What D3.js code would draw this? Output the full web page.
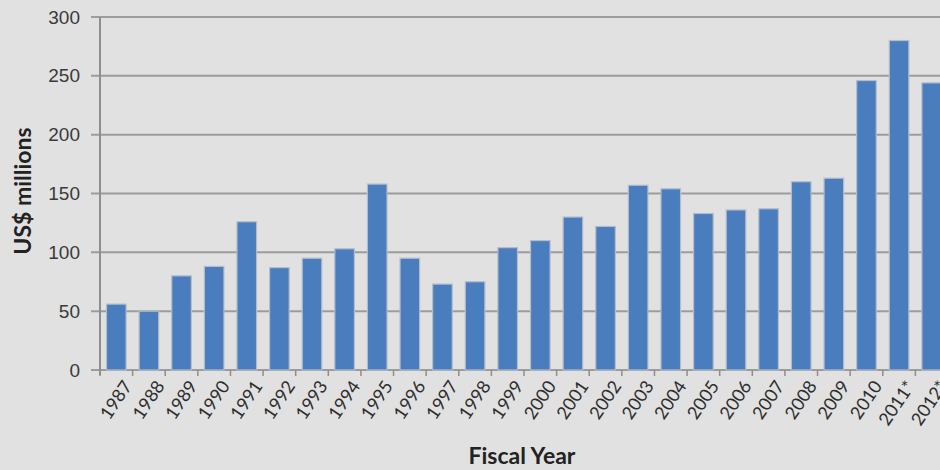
<!DOCTYPE html>
<html>
<head>
<meta charset="utf-8">
<script src="https://cdn.jsdelivr.net/npm/d3@7"></script>
<style>
  body { margin: 0; background: #e1e1e1; overflow: hidden; }
  svg { display: block; font-family: Lato, "Open Sans", sans-serif; }
</style>
</head>
<body>
<div id="chart"></div>
<script>
var years = ["1987", "1988", "1989", "1990", "1991", "1992", "1993", "1994", "1995", "1996",
  "1997", "1998", "1999", "2000", "2001", "2002", "2003", "2004", "2005", "2006",
  "2007", "2008", "2009", "2010", "2011*", "2012*"];
var spending = [56, 50, 80, 88, 126, 87, 95, 103, 158, 95,
  73, 75, 104, 110, 130, 122, 157, 154, 133, 136,
  137, 160, 163, 246, 280, 244];
var yTicks = [0, 50, 100, 150, 200, 250, 300];

(function() {
  var width = 940, height = 470;
  var margin = {top: 17, left: 100, bottom: 100};
  var plotW = 848, plotH = 353;

  var svg = d3.select("#chart").append("svg")
    .attr("width", width)
    .attr("height", height);

  var g = svg.append("g")
    .attr("transform", "translate(" + margin.left + "," + margin.top + ")");

  var x = d3.scaleBand()
    .domain(years)
    .range([0, plotW])
    .paddingInner(0.4)
    .paddingOuter(0.2);

  var y = d3.scaleLinear()
    .domain([0, 300])
    .range([plotH, 0]);

  // gridlines
  g.selectAll("line.grid")
    .data(yTicks)
    .enter()
    .append("line")
    .attr("class", "grid")
    .attr("x1", -9)
    .attr("x2", plotW)
    .attr("y1", function(d) { return y(d); })
    .attr("y2", function(d) { return y(d); })
    .attr("stroke", "#9c9c9c")
    .attr("stroke-width", 2);

  // bars
  g.selectAll("rect.bar")
    .data(spending)
    .enter()
    .append("rect")
    .attr("class", "bar")
    .attr("x", function(d, i) { return x(years[i]); })
    .attr("y", function(d) { return y(d); })
    .attr("width", x.bandwidth())
    .attr("height", function(d) { return plotH - y(d); })
    .attr("fill", "#4a7dbd")
    .attr("stroke", "#b4bccb")
    .attr("stroke-width", 1.2);

  // y axis
  var yAxis = g.append("g")
    .call(d3.axisLeft(y).tickValues(yTicks).tickSize(0).tickPadding(20));
  yAxis.select(".domain").remove();
  yAxis.append("line")
    .attr("x1", 0).attr("x2", 0)
    .attr("y1", 0).attr("y2", plotH + 5)
    .attr("stroke", "#8e8e8e")
    .attr("stroke-width", 2);
  yAxis.selectAll("text")
    .attr("fill", "#3a3a3a")
    .style("font-size", "19px");

  // x axis ticks between categories
  var step = x.step();
  var bounds = d3.range(years.length + 1).map(function(i) { return x(years[0]) - x.paddingOuter() * step + i * step; });
  g.selectAll("line.xtick")
    .data(bounds)
    .enter()
    .append("line")
    .attr("class", "xtick")
    .attr("x1", function(d) { return d; })
    .attr("x2", function(d) { return d; })
    .attr("y1", plotH)
    .attr("y2", plotH + 6)
    .attr("stroke", "#8e8e8e")
    .attr("stroke-width", 1.5);

  g.selectAll("text.xlab")
    .data(years)
    .enter()
    .append("text")
    .attr("class", "xlab")
    .attr("transform", function(d) {
      return "translate(" + (x(d) + x.bandwidth() / 2 + 6) + "," + (plotH + 9) + ") rotate(-56)";
    })
    .attr("text-anchor", "end")
    .attr("dy", "0.7em")
    .attr("fill", "#2e2e2e")
    .style("font-size", "18px")
    .text(function(d) { return d; });

  // axis titles
  svg.append("text")
    .attr("transform", "translate(31,191) rotate(-90)")
    .attr("text-anchor", "middle")
    .attr("fill", "#222")
    .style("font-size", "23px")
    .style("font-weight", "bold")
    .text("US$ millions");

  svg.append("text")
    .attr("x", 522)
    .attr("y", 464)
    .attr("text-anchor", "middle")
    .attr("fill", "#222")
    .style("font-size", "23px")
    .style("font-weight", "bold")
    .text("Fiscal Year");
})();
</script>
</body>
</html>
